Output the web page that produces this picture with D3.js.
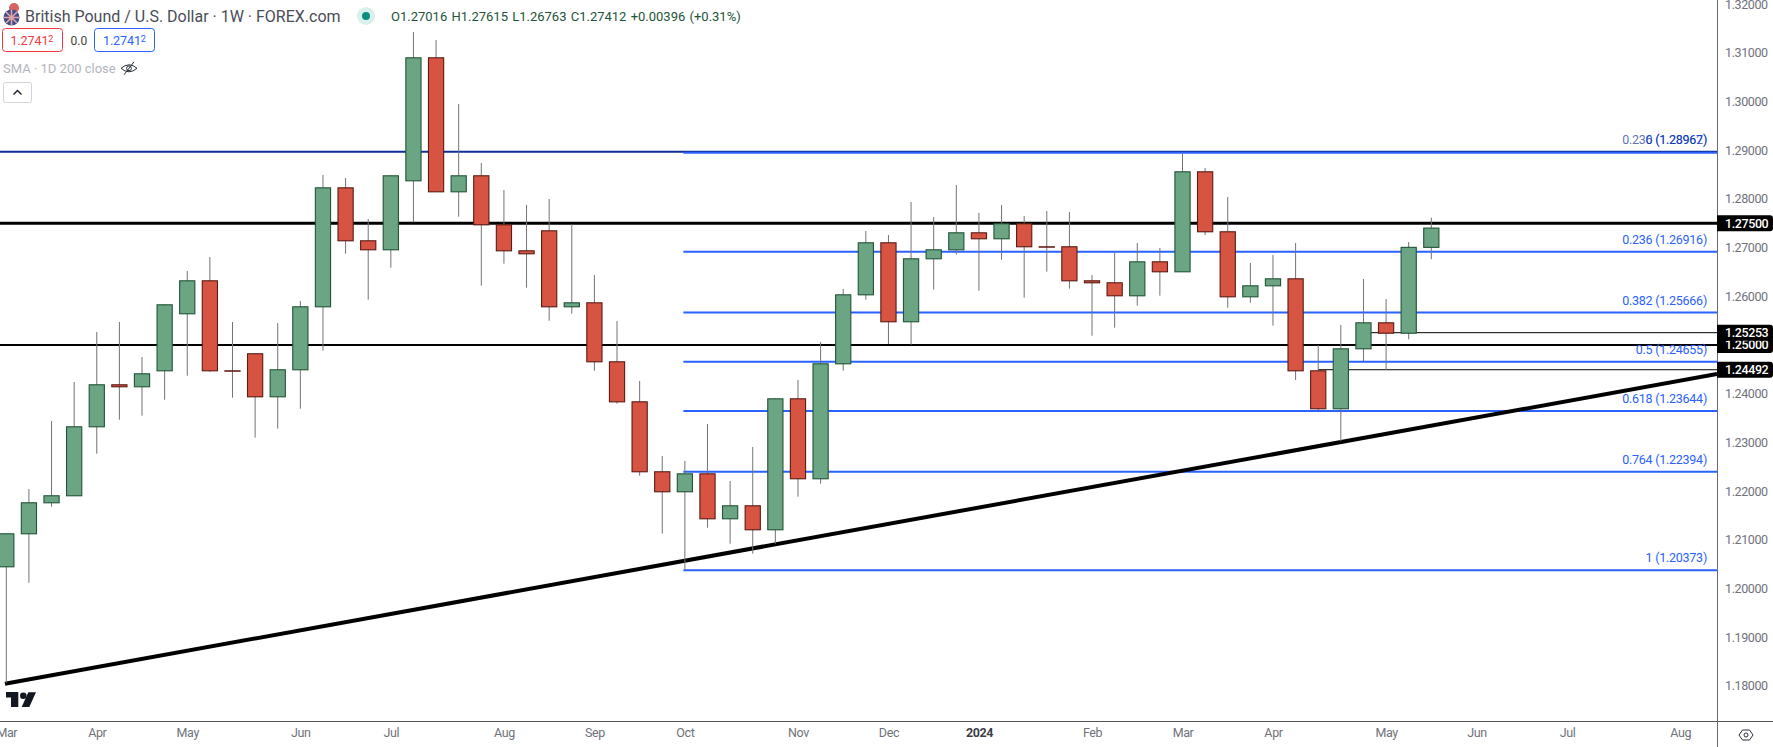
<!DOCTYPE html>
<html>
<head>
<meta charset="utf-8">
<script src="https://cdn.jsdelivr.net/npm/d3@7/dist/d3.min.js"></script>
<style>
  html, body { margin: 0; padding: 0; background: #fff; overflow: hidden; }
  text { font-family: Roboto, sans-serif; }
  .axis text { font-size: 12.5px; letter-spacing: -0.4px; fill: #6f727b; }
  .axis line { display: none; }
</style>
</head>
<body>
<svg id="chart" width="1773" height="747"></svg>
<script>
// weekly GBP/USD candles
var opens = [1.20454,1.21132,1.21769,1.21913,1.23330,1.24193,1.24152,1.24480,1.25651,1.26329,1.24480,1.24830,1.23946,1.24501,1.25795,1.28239,
  1.27151,1.26966,1.28383,1.30910,1.28157,1.28486,1.27479,1.26945,1.27356,1.25795,1.25877,1.24665,1.23843,1.22406,1.21995,1.22364,
  1.21440,1.21707,1.21214,1.23905,1.22262,1.24624,1.26041,1.27110,1.25487,1.26781,1.26966,1.27315,1.27192,1.27500,1.27028,1.27028,
  1.26329,1.26288,1.26021,1.26719,1.26514,1.28568,1.27336,1.26000,1.26226,1.26370,1.24480,1.23700,1.24932,1.25466,1.25253,1.27016];
var highs = [1.21132,1.22042,1.23439,1.24240,1.25267,1.25472,1.24753,1.25836,1.26520,1.26808,1.25472,1.24830,1.25452,1.25904,1.28492,1.28431,
  1.27588,1.28486,1.31430,1.31265,1.29951,1.28739,1.28184,1.27876,1.27999,1.27479,1.26438,1.25493,1.24260,1.22720,1.22617,1.23377,
  1.22206,1.22905,1.23905,1.24281,1.25062,1.26150,1.27342,1.27260,1.27938,1.27629,1.28287,1.27712,1.27876,1.27650,1.27753,1.27732,
  1.26438,1.26925,1.27095,1.26993,1.28930,1.28636,1.28040,1.26684,1.26849,1.27095,1.25000,1.25411,1.26356,1.25945,1.27116,1.27615];
var lows = [1.18057,1.20117,1.21678,1.21913,1.22767,1.23465,1.23548,1.23876,1.24369,1.24452,1.23917,1.23096,1.23281,1.23691,1.24883,1.26876,
  1.25931,1.26588,1.27521,1.28157,1.27636,1.26218,1.26670,1.26177,1.25499,1.25643,1.24472,1.23794,1.22315,1.21124,1.20378,1.21247,
  1.20918,1.20713,1.20918,1.21884,1.22151,1.24472,1.25931,1.25021,1.25006,1.26136,1.26855,1.26115,1.26752,1.25972,1.26506,1.26157,
  1.25191,1.25355,1.25807,1.26013,1.26514,1.27260,1.25766,1.25869,1.25396,1.24281,1.23665,1.23022,1.24665,1.24492,1.25117,1.26763];
var closes = [1.21132,1.21769,1.21913,1.23330,1.24193,1.24152,1.24419,1.25836,1.26329,1.24480,1.24480,1.23946,1.24501,1.25795,1.28239,1.27151,
  1.26966,1.28486,1.30910,1.28157,1.28486,1.27479,1.26945,1.26884,1.25795,1.25877,1.24665,1.23843,1.22406,1.21995,1.22364,1.21440,
  1.21707,1.21214,1.23905,1.22262,1.24624,1.26041,1.27110,1.25487,1.26781,1.26966,1.27315,1.27192,1.27500,1.27028,1.27028,1.26329,
  1.26288,1.26021,1.26719,1.26514,1.28568,1.27336,1.26000,1.26226,1.26370,1.24480,1.23700,1.24932,1.25466,1.25253,1.27016,1.27412];

// x axis labels sit on these candle numbers
var monthWeeks = [0,4,8,13,17,22,26,30,35,39,43,48,52,56,61,65,69,74];
var monthNames = ["Mar","Apr","May","Jun","Jul","Aug","Sep","Oct","Nov","Dec","2024","Feb","Mar","Apr","May","Jun","Jul","Aug"];
var priceTicks = [1.18,1.19,1.20,1.21,1.22,1.23,1.24,1.26,1.27,1.28,1.29,1.30,1.31,1.32];

// fib retracement (blue)
var fibRatios = ["0","0.236","0.382","0.5","0.618","0.764","1"];
var fibPrices = [1.28967,1.26916,1.25666,1.24655,1.23644,1.22394,1.20373];
var fibStartWeek = 30;
var navyLevel = 1.28962;

// black levels on the price scale
var thickLevels = [1.27500,1.25000];
var thinLevels = [1.25253,1.24492];
var thinStartWeeks = [60,58];
var trendWeeks = [-0.06,75.63];
var trendPrices = [1.18042,1.24404];

var plotW = 1717, plotH = 721, W = 1773, H = 747;

var x = d3.scaleLinear().domain([-0.2785, 75.63]).range([0, plotW]);
var y = d3.scaleLinear().domain([1.17276, 1.32087]).range([plotH, 0]);

var svg = d3.select("#chart");

svg.append("defs").append("clipPath").attr("id", "plot")
  .append("rect").attr("width", plotW).attr("height", plotH);

var plot = svg.append("g").attr("clip-path", "url(#plot)");

// navy line runs the whole pane
plot.append("line")
  .attr("x1", 0).attr("x2", plotW)
  .attr("y1", y(navyLevel) - 0.4).attr("y2", y(navyLevel) - 0.4)
  .attr("stroke", "#0c2f96").attr("stroke-width", 2);

// fib levels
plot.selectAll(".fib").data(fibPrices).enter().append("line")
  .attr("class", "fib")
  .attr("x1", x(fibStartWeek) - 1.5).attr("x2", plotW)
  .attr("y1", function (d, i) { return y(d) + (i == 0 ? 0.8 : 0); })
  .attr("y2", function (d, i) { return y(d) + (i == 0 ? 0.8 : 0); })
  .attr("stroke", "#2962ff").attr("stroke-width", 2);

plot.selectAll(".thick").data(thickLevels).enter().append("line")
  .attr("x1", 0).attr("x2", plotW)
  .attr("y1", function (d) { return y(d); }).attr("y2", function (d) { return y(d); })
  .attr("stroke", "#000").attr("stroke-width", function (d, i) { return i == 0 ? 3 : 2; });

plot.selectAll(".thin").data(thinLevels).enter().append("line")
  .attr("x1", function (d, i) { return x(thinStartWeeks[i]); }).attr("x2", plotW)
  .attr("y1", function (d) { return y(d); }).attr("y2", function (d) { return y(d); })
  .attr("stroke", "#000").attr("stroke-width", 1);

// rising trendline
plot.append("line")
  .attr("x1", x(trendWeeks[0])).attr("y1", y(trendPrices[0]))
  .attr("x2", x(trendWeeks[1])).attr("y2", y(trendPrices[1]))
  .attr("stroke", "#000").attr("stroke-width", 4);

// candles
var candles = plot.selectAll(".candle").data(opens).enter().append("g").attr("class", "candle");

candles.append("line")
  .attr("x1", function (d, i) { return x(i); })
  .attr("x2", function (d, i) { return x(i); })
  .attr("y1", function (d, i) { return y(highs[i]); })
  .attr("y2", function (d, i) { return y(lows[i]); })
  .attr("stroke", "#737375").attr("stroke-width", 1);

candles.append("rect")
  .attr("x", function (d, i) { return x(i) - 7.6; })
  .attr("width", 15.2)
  .attr("y", function (d, i) { return y(Math.max(opens[i], closes[i])) + 0.5; })
  .attr("height", function (d, i) { return Math.max(Math.abs(y(opens[i]) - y(closes[i])), 0.4); })
  .attr("fill", function (d, i) { return closes[i] > opens[i] ? "#6ba583" : "#d75442"; })
  .attr("stroke", function (d, i) { return closes[i] > opens[i] ? "#225437" : "#5b1a13"; })
  .attr("stroke-width", 1.1);

// fib labels
svg.selectAll(".fibLabel").data(fibPrices).enter().append("text")
  .attr("class", "fibLabel")
  .attr("x", 1707).attr("y", function (d) { return y(d) - 8; })
  .attr("text-anchor", "end")
  .attr("font-size", 12.5).attr("letter-spacing", -0.25)
  .attr("fill", "#2962ff")
  .text(function (d, i) { return fibRatios[i] + " (" + d.toFixed(5) + ")"; });

svg.append("text")
  .attr("x", 1707).attr("y", y(navyLevel) - 8)
  .attr("text-anchor", "end")
  .attr("font-size", 12.5).attr("letter-spacing", -0.25)
  .attr("fill", "#0c2f96").attr("fill-opacity", 0.7)
  .text("0.236 (" + navyLevel.toFixed(5) + ")");

// axes
var xAxis = svg.append("g").attr("class", "axis")
  .attr("transform", "translate(0," + plotH + ")")
  .call(d3.axisBottom(x).tickValues(monthWeeks).tickSize(0).tickPadding(7)
    .tickFormat(function (d) { return monthNames[monthWeeks.indexOf(d)]; }));
xAxis.select(".domain").remove();
xAxis.selectAll("text")
  .attr("fill", null)
  .style("fill", function (d) { return d == 43 ? "#3c3f47" : null; })
  .style("font-weight", function (d) { return d == 43 ? "bold" : null; });

var yAxis = svg.append("g").attr("class", "axis")
  .attr("transform", "translate(" + plotW + ",0)")
  .call(d3.axisRight(y).tickValues(priceTicks).tickSize(0).tickPadding(8)
    .tickFormat(d3.format(".5f")));
yAxis.select(".domain").remove();
yAxis.selectAll("text").attr("fill", null);

svg.append("line").attr("x1", 0).attr("x2", W).attr("y1", plotH + 0.5).attr("y2", plotH + 0.5)
  .attr("stroke", "#555");
svg.append("line").attr("x1", plotW + 0.5).attr("x2", plotW + 0.5).attr("y1", 0).attr("y2", H)
  .attr("stroke", "#6a6a6a");

// black price tags
var tagPrices = thickLevels.concat(thinLevels).sort(d3.ascending);
var tags = svg.selectAll(".tag").data(tagPrices).enter().append("g").attr("class", "tag");
tags.append("path")
  .attr("d", function (d) {
    var t = y(d) - 8, b = y(d) + 8, l = plotW, r = W;
    return "M" + l + "," + t + "H" + (r - 3) + "Q" + r + "," + t + " " + r + "," + (t + 3) +
      "V" + (b - 3) + "Q" + r + "," + b + " " + (r - 3) + "," + b + "H" + l + "Z";
  })
  .attr("fill", "#000");
tags.append("text")
  .attr("x", plotW + 8).attr("y", function (d) { return y(d); })
  .attr("dy", "0.35em")
  .attr("font-size", 12.5).attr("letter-spacing", -0.4).attr("font-weight", 500)
  .attr("fill", "#fff")
  .text(function (d) { return d.toFixed(5); });

// corner gear
var gear = svg.append("g").attr("transform", "translate(1746,735)")
  .attr("fill", "none").attr("stroke", "#2a2e39").attr("stroke-width", 1);
gear.append("path").attr("d", "M-7,0L-3.5,-5H3.5L7,0L3.5,5H-3.5Z");
gear.append("circle").attr("r", 2);

// tradingview mark
var logo = svg.append("g").attr("fill", "#131722");
logo.append("path").attr("d", "M6,692H18.3V707H11V697.5H6Z");
logo.append("circle").attr("cx", 23.3).attr("cy", 695.7).attr("r", 3.3);
logo.append("path").attr("d", "M28.3,692.3H36L29.3,707H21.7Z");

// header legend
var head = svg.append("g");
head.append("circle").attr("cx", 14).attr("cy", 8).attr("r", 5).attr("fill", "#d8625f");
head.append("circle").attr("cx", 11.5).attr("cy", 17.5).attr("r", 8).attr("fill", "#3f4e8a");
head.append("path").attr("d", "M6,12L17,23M6,23L17,12M3.5,17.5H19.5M11.5,9.5V25.5").attr("stroke", "#e5a3a3").attr("stroke-width", 1.6);

head.append("text").attr("x", 25).attr("y", 21.5)
  .attr("font-size", 16).attr("fill", "#4a4d57")
  .text("British Pound / U.S. Dollar \u00b7 1W \u00b7 FOREX.com");

head.append("circle").attr("cx", 366).attr("cy", 16).attr("r", 9).attr("fill", "#daf0ec");
head.append("circle").attr("cx", 366).attr("cy", 16).attr("r", 4).attr("fill", "#0b8f7c");

head.append("text").attr("x", 391).attr("y", 20.5)
  .attr("font-size", 13).attr("fill", "#225437").attr("word-spacing", 1)
  .text("O1.27016 H1.27615 L1.26763 C1.27412 +0.00396 (+0.31%)");

head.append("rect").attr("x", 2.5).attr("y", 28.5).attr("width", 60).attr("height", 23).attr("rx", 3)
  .attr("fill", "#fff").attr("stroke", "#f23645");
head.append("rect").attr("x", 94.5).attr("y", 28.5).attr("width", 60).attr("height", 23).attr("rx", 3)
  .attr("fill", "#fff").attr("stroke", "#2962ff");

function priceBox(px, col) {
  var t = head.append("text").attr("x", px).attr("y", 45)
    .attr("font-size", 12.5).attr("letter-spacing", -0.1).attr("fill", col);
  t.append("tspan").text("1.2741");
  t.append("tspan").attr("dy", -3).attr("font-size", 9).text("2");
}
priceBox(10.5, "#f23645");
priceBox(103, "#2962ff");

head.append("text").attr("x", 70.5).attr("y", 44.5).attr("font-size", 12).attr("fill", "#444").text("0.0");

head.append("text").attr("x", 3).attr("y", 73)
  .attr("font-size", 13).attr("fill", "#b2b5be")
  .text("SMA \u00b7 1D 200 close");

var eye = head.append("g").attr("transform", "translate(129,68.3)")
  .attr("fill", "none").attr("stroke", "#2a2e39").attr("stroke-width", 1);
eye.append("path").attr("d", "M-8,0Q0,-7 8,0Q0,7 -8,0Z");
eye.append("circle").attr("r", 2.4);
eye.append("line").attr("x1", -5).attr("y1", 6.5).attr("x2", 5).attr("y2", -6.5);

head.append("rect").attr("x", 3.5).attr("y", 82.5).attr("width", 28).attr("height", 20).attr("rx", 2)
  .attr("fill", "#fff").attr("stroke", "#d1d4dc");
head.append("path").attr("d", "M13.5,94.5L17.5,90.5L21.5,94.5")
  .attr("fill", "none").attr("stroke", "#131722").attr("stroke-width", 1.3);
</script>
</body>
</html>
